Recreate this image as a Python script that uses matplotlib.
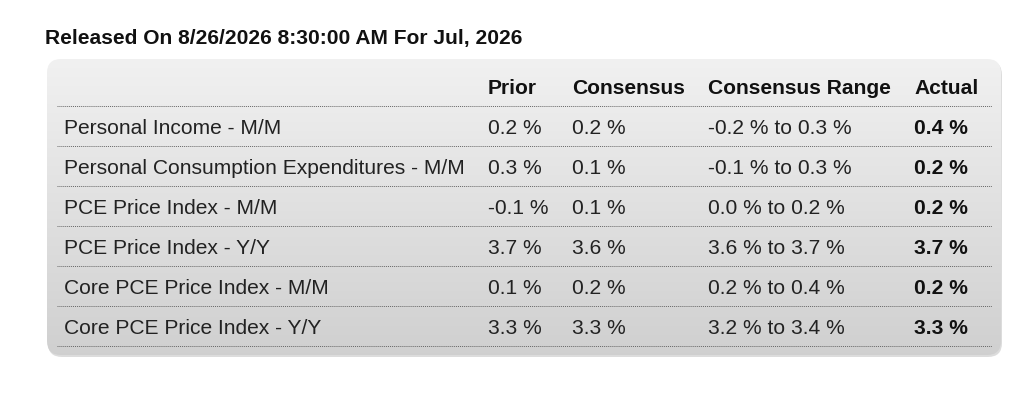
import matplotlib
matplotlib.use("Agg")
import matplotlib.pyplot as plt
import numpy as np
from matplotlib.patches import FancyBboxPatch

plt.rcParams['font.family'] = ['Liberation Sans', 'DejaVu Sans']

title = "Released On 8/26/2026 8:30:00 AM For Jul, 2026"
headers = ["Prior", "Consensus", "Consensus Range", "Actual"]
indicators = [
    "Personal Income - M/M",
    "Personal Consumption Expenditures - M/M",
    "PCE Price Index - M/M",
    "PCE Price Index - Y/Y",
    "Core PCE Price Index - M/M",
    "Core PCE Price Index - Y/Y",
]
prior = ["0.2 %", "0.3 %", "-0.1 %", "3.7 %", "0.1 %", "3.3 %"]
consensus = ["0.2 %", "0.1 %", "0.1 %", "3.6 %", "0.2 %", "3.3 %"]
cons_range = ["-0.2 % to 0.3 %", "-0.1 % to 0.3 %", "0.0 % to 0.2 %",
              "3.6 % to 3.7 %", "0.2 % to 0.4 %", "3.2 % to 3.4 %"]
actual = ["0.4 %", "0.2 %", "0.2 %", "3.7 %", "0.2 %", "3.3 %"]

W, H = 1024, 406
fig = plt.figure(figsize=(W / 100, H / 100), dpi=100)
ax = fig.add_axes([0, 0, 1, 1])
ax.set_xlim(0, W)
ax.set_ylim(H, 0)
ax.axis('off')

fs = 15.1

ax.text(45, 38.5, title, fontsize=fs, fontweight='bold', va='center', ha='left', color='#111111')

# box
bx0, by0, bx1, by1 = 47, 60, 1001, 356
shadow = FancyBboxPatch((bx0 + 1, by0 + 2), bx1 - bx0, by1 - by0,
                        boxstyle="round,pad=0,rounding_size=14",
                        fc='#bbbbbb', ec='none', alpha=0.5, zorder=0)
ax.add_patch(shadow)
box = FancyBboxPatch((bx0, by0), bx1 - bx0, by1 - by0,
                     boxstyle="round,pad=0,rounding_size=14",
                     fc='none', ec='none', zorder=1)
ax.add_patch(box)
grad = np.linspace(0, 1, 256).reshape(-1, 1)
top = np.array([0.945, 0.945, 0.945])
bot = np.array([0.815, 0.815, 0.815])
img = top + (bot - top) * grad[..., None]
img = np.repeat(img, 2, axis=1)
im = ax.imshow(img, extent=[bx0, bx1, by1, by0], aspect='auto', zorder=1,
               interpolation='bilinear')
im.set_clip_path(box)

label_x = 64
col_x = [488, 572, 708, 914]
header_y = 88
row_y0 = 128.5
row_h = 40
line_ys = [107 + i * row_h for i in range(len(indicators) + 1)]

for x, h in zip(col_x, headers):
    ax.text(x, header_y, h, fontsize=fs, fontweight='bold', va='center', ha='left', color='#111111', zorder=3)

for ly in line_ys:
    ax.plot([57, 992], [ly, ly], color='#666666', lw=0.7, ls=(0, (1, 1)), zorder=2)

for i, name in enumerate(indicators):
    y = row_y0 + i * row_h
    ax.text(label_x, y, name, fontsize=fs, va='center', ha='left', color='#222222', zorder=3)
    ax.text(col_x[0], y, prior[i], fontsize=fs, va='center', ha='left', color='#222222', zorder=3)
    ax.text(col_x[1], y, consensus[i], fontsize=fs, va='center', ha='left', color='#222222', zorder=3)
    ax.text(col_x[2], y, cons_range[i], fontsize=fs, va='center', ha='left', color='#222222', zorder=3)
    ax.text(col_x[3], y, actual[i], fontsize=fs, fontweight='bold', va='center', ha='left', color='#111111', zorder=3)

fig.savefig("out.png", dpi=100, facecolor='white')
